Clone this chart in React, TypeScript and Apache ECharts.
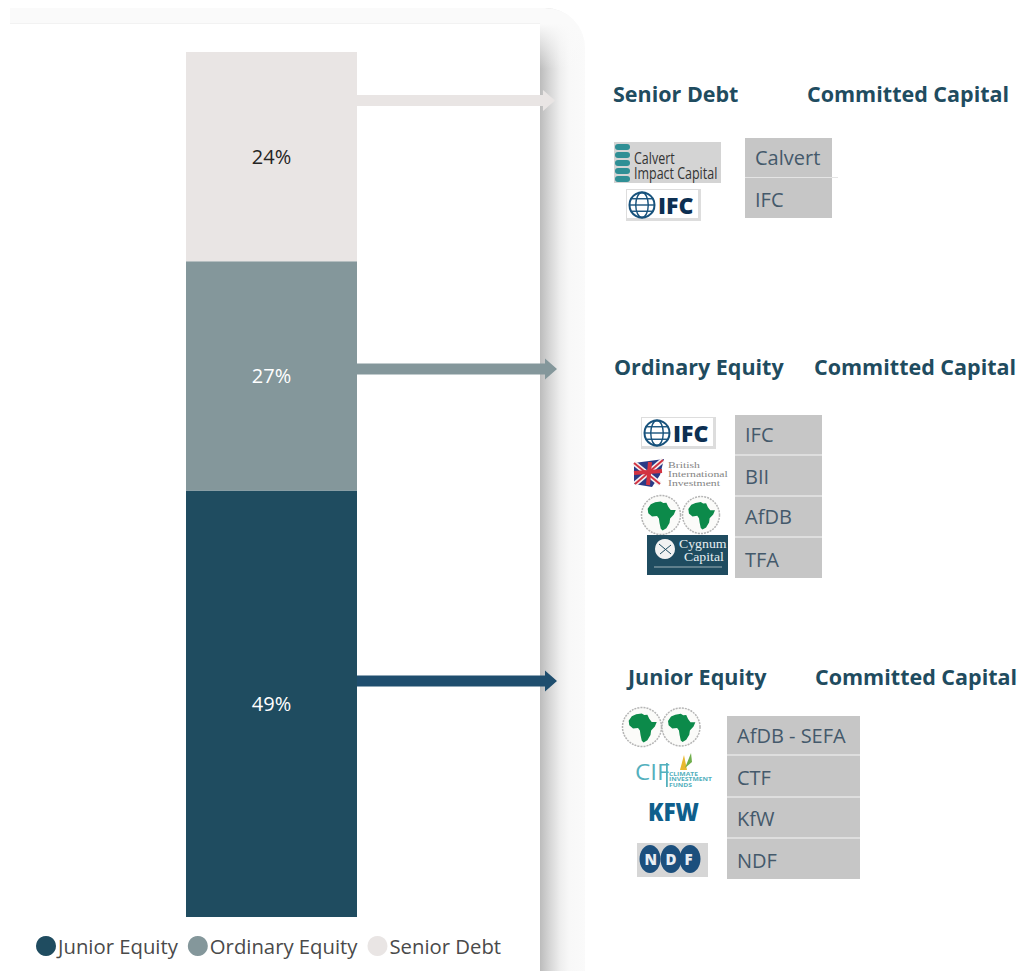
import React, { useEffect, useRef } from "react";
import * as echarts from "echarts";

const categories = ["Capital"];
const seriesNames = ["Junior Equity", "Ordinary Equity", "Senior Debt"];
const juniorEquity = [49.3];
const ordinaryEquity = [26.5];
const seniorDebt = [24.2];
const seriesColors = ["#1f4c60", "#84979b", "#e9e5e4"];
const seriesLabelColors = ["#ffffff", "#ffffff", "#252423"];

const seniorRows = ["Calvert", "IFC"];
const ordinaryRows = ["IFC", "BII", "AfDB", "TFA"];
const juniorRows = ["AfDB - SEFA", "CTF", "KfW", "NDF"];
const committed = "Committed Capital";

const AFRICA =
  "M30 8 L48 5 L56 10 L66 9 L72 22 L80 32 L96 32 L90 46 L78 58 L76 72 L66 88 L54 95 L48 90 L44 72 L42 58 L36 50 L20 52 L8 42 L6 28 L16 14 Z";
const DARK = "#0d2f52";
const HEAD = "#1f4c60";
const CELL_TEXT = "#44596b";
const HEAD_FONT = '700 21.5px "Open Sans"';

const txt = (text: string, x: number, y: number, font: string, fill: string, scaleX = 1) => ({
  type: "text",
  x,
  y,
  scaleX,
  style: { text, font, fill, textVerticalAlign: "middle" },
});
const box = (x: number, y: number, width: number, height: number, fill: any, r: any = 0) => ({
  type: "rect",
  shape: { x, y, width, height, r },
  style: { fill },
});
const stroke = (x1: number, y1: number, x2: number, y2: number, color: string, lineWidth: number) => ({
  type: "line",
  shape: { x1, y1, x2, y2 },
  style: { stroke: color, lineWidth },
});

const arrow = (yc: number, tip: number, half: number, headHalf: number, fill: string) => ({
  type: "polygon",
  shape: {
    points: [
      [357, yc - half],
      [tip - 12, yc - half],
      [tip - 12, yc - headHalf],
      [tip, yc],
      [tip - 12, yc + headHalf],
      [tip - 12, yc + half],
      [357, yc + half],
    ],
  },
  style: { fill },
});

const table = (rows: string[], x: number, width: number, tops: number[], heights: number[], centers: number[]) => [
  box(x, tops[0], width, tops[tops.length - 1] + heights[heights.length - 1] - tops[0], "#dedede"),
  ...rows.flatMap((row, i) => [
    box(x, tops[i], width, heights[i], "#c6c6c6"),
    txt(row, x + 10, centers[i], '20px "Open Sans"', CELL_TEXT),
  ]),
];

const globe = (cx: number, cy: number, r: number) => {
  const c = "#17527c";
  return [
    { type: "circle", shape: { cx, cy, r }, style: { fill: "#ffffff", stroke: c, lineWidth: 2 } },
    { type: "ellipse", shape: { cx, cy, rx: r * 0.5, ry: r }, style: { fill: "none", stroke: c, lineWidth: 1.4 } },
    stroke(cx - r, cy, cx + r, cy, c, 1.4),
    stroke(cx - r * 0.85, cy - r * 0.5, cx + r * 0.85, cy - r * 0.5, c, 1.4),
    stroke(cx - r * 0.85, cy + r * 0.5, cx + r * 0.85, cy + r * 0.5, c, 1.4),
  ];
};
const ifcLogo = (x: number, y: number) => [
  box(x, y, 75, 32, "#dddddd"),
  box(x + 1, y + 1, 71, 28, "#ffffff"),
  ...globe(x + 16, y + 16, 12.5),
  txt("IFC", x + 32, y + 16, '800 23px "Open Sans"', DARK),
];
const seal = (cx: number, cy: number, r: number) => [
  { type: "circle", shape: { cx, cy, r }, style: { fill: "#fbfbf9", stroke: "#b5b5b5", lineWidth: 1.5, lineDash: [2, 1] } },
  { type: "africa", x: cx - r * 0.78, y: cy - r * 0.78, scaleX: r * 0.016, scaleY: r * 0.0165, style: { fill: "#0c8a4a" } },
];

function buildGraphics(): any[] {
  const shadow = new echarts.graphic.LinearGradient(0, 0, 1, 0, [
    { offset: 0, color: "#bcbcbc" },
    { offset: 0.2, color: "#d4d4d4" },
    { offset: 0.45, color: "#eeeeee" },
    { offset: 0.65, color: "#f8f8f8" },
    { offset: 1, color: "#fafafa" },
  ]);
  const fadeTop = new echarts.graphic.LinearGradient(0, 0, 0, 1, [
    { offset: 0, color: "rgba(250,250,250,1)" },
    { offset: 0.26, color: "rgba(250,250,250,1)" },
    { offset: 1, color: "rgba(250,250,250,0)" },
  ]);
  const cif = "#54b0bd";
  const ndfMark = (cx: number, letter: string) => [
    { type: "ellipse", shape: { cx, cy: 859, rx: 10.5, ry: 14 }, style: { fill: "#1b4f7d" } },
    txt(letter, cx - 5.5, 859, '800 15px "Open Sans"', "#e8eef3"),
  ];
  return [
    box(10, 8, 530, 16, "#fafafa"),
    box(540, 8, 45, 963, shadow, [0, 40, 0, 0]),
    box(540, 8, 45, 61, fadeTop, [0, 40, 0, 0]),
    box(10, 24, 530, 947, "#ffffff"),
    box(10, 23, 530, 1, "#f2f2f2"),

    arrow(100.5, 555, 5.5, 10.5, "#e9e5e4"),
    arrow(369, 557, 5.5, 10.5, "#84979b"),
    arrow(681, 557, 5.5, 10.5, "#1f4e6e"),

    txt(seriesNames[2], 613, 93, HEAD_FONT, HEAD),
    txt(committed, 807, 93, HEAD_FONT, HEAD),
    txt(seriesNames[1], 614, 366, HEAD_FONT, HEAD),
    txt(committed, 814, 366, HEAD_FONT, HEAD),
    txt(seriesNames[0], 628, 676, HEAD_FONT, HEAD),
    txt(committed, 815, 676, HEAD_FONT, HEAD),

    ...table(seniorRows, 745, 87, [138, 178], [39, 40], [157, 199]),
    stroke(745, 177.5, 838, 177.5, "#e4e4e4", 1),
    ...table(ordinaryRows, 735, 87, [415, 456, 497, 538], [39, 39, 39, 40], [434, 476, 516, 559]),
    ...table(juniorRows, 727, 133, [716, 756, 798, 839], [38, 40, 39, 40], [735, 777, 818, 860]),

    // Calvert logo
    box(614, 142, 107, 41, "#d4d4d4"),
    ...[144, 152, 160, 168, 176].map((y) => box(615, y, 15, 6, "#2f8f95", 3)),
    txt("Calvert", 634, 158, '16px "Open Sans"', "#333333", 0.78),
    txt("Impact Capital", 634, 173, '16px "Open Sans"', "#333333", 0.78),
    ...ifcLogo(626, 189),

    // Ordinary equity logos
    ...ifcLogo(641, 417),
    { type: "polygon", shape: { points: [[634, 463], [664, 459], [660, 475], [652, 487], [634, 484]] }, style: { fill: "#2a3a86" } },
    stroke(634, 463, 660, 484, "#f4f0f0", 5),
    stroke(663, 460, 635, 484, "#f4f0f0", 5),
    stroke(634, 463, 660, 484, "#d23342", 2),
    stroke(663, 460, 635, 484, "#d23342", 2),
    stroke(634, 473, 662, 471, "#d23342", 4),
    stroke(650, 462, 648, 485, "#d23342", 4),
    txt("British", 668, 465, '9px "Liberation Serif"', "#848484", 1.3),
    txt("International", 668, 474, '9px "Liberation Serif"', "#848484", 1.3),
    txt("Investment", 668, 483, '9px "Liberation Serif"', "#848484", 1.3),
    ...seal(661, 515, 19.5),
    ...seal(701, 515, 18.5),
    box(647, 535, 81, 40, "#1f4c60"),
    { type: "circle", shape: { cx: 665, cy: 549, r: 10 }, style: { fill: "#f2f2f2" } },
    stroke(659, 544, 671, 554, "#1f4c60", 1),
    stroke(671, 545, 660, 554, "#1f4c60", 1),
    txt("Cygnum", 679, 544, '12px "Liberation Serif"', "#e6eef0", 1.15),
    txt("Capital", 684, 557, '12px "Liberation Serif"', "#e6eef0", 1.15),
    box(654, 566, 68, 2, "#5f7f8c"),

    // Junior equity logos
    ...seal(642, 727, 19.5),
    ...seal(681, 727, 19),
    txt("CIF", 635, 771, '400 22px "Open Sans"', cif, 1.1),
    box(666, 763, 1.8, 24, cif),
    { type: "polygon", shape: { points: [[680, 770], [684, 755], [687, 770]] }, style: { fill: "#e8b92f" } },
    { type: "polygon", shape: { points: [[685, 768], [691, 753], [692, 762]] }, style: { fill: "#6fae4b" } },
    txt("CLIMATE", 669, 774, '700 4.5px "Open Sans"', cif, 1.5),
    txt("INVESTMENT", 669, 779.5, '700 4.5px "Open Sans"', cif, 1.5),
    txt("FUNDS", 669, 785, '700 4.5px "Open Sans"', cif, 1.5),
    txt("KFW", 648, 812, '800 25px "Open Sans"', "#0f5f8c", 0.9),
    box(637, 843, 71, 34, "#d6d6d6"),
    ...ndfMark(650, "N"),
    ...ndfMark(671, "D"),
    ...ndfMark(690, "F"),
  ];
}

const values = [juniorEquity, ordinaryEquity, seniorDebt];

export default function App() {
  const ref = useRef<HTMLDivElement>(null);
  useEffect(() => {
    if (!ref.current) return;
    echarts.graphic.registerShape("africa", echarts.graphic.extendPath(AFRICA, {}) as any);
    const chart = echarts.init(ref.current, undefined, { renderer: "svg" });
    chart.setOption({
      animation: false,
      backgroundColor: "#ffffff",
      grid: { left: 186, top: 52, width: 171, height: 865, containLabel: false },
      xAxis: { type: "category", data: categories, show: false },
      yAxis: { type: "value", min: 0, max: 100, show: false },
      legend: {
        left: 36,
        top: 936,
        padding: 0,
        itemWidth: 20,
        itemHeight: 20,
        itemGap: 10,
        icon: "circle",
        data: seriesNames,
        textStyle: { color: "#4a4a4a", fontSize: 20.3, fontFamily: '"Open Sans"', padding: [0, 0, 0, -3] },
      },
      series: seriesNames.map((name, i) => ({
        name,
        type: "bar",
        stack: "total",
        barWidth: "100%",
        data: values[i],
        itemStyle: { color: seriesColors[i] },
        label: {
          show: true,
          position: "inside",
          color: seriesLabelColors[i],
          fontSize: 20,
          fontFamily: '"Open Sans"',
          formatter: (p: any) => `${Math.round(p.value)}%`,
        },
      })),
      graphic: { elements: buildGraphics() },
    });
    return () => chart.dispose();
  }, []);
  return <div ref={ref} style={{ position: "absolute", left: 0, top: 0, width: 1018, height: 971 }} />;
}
